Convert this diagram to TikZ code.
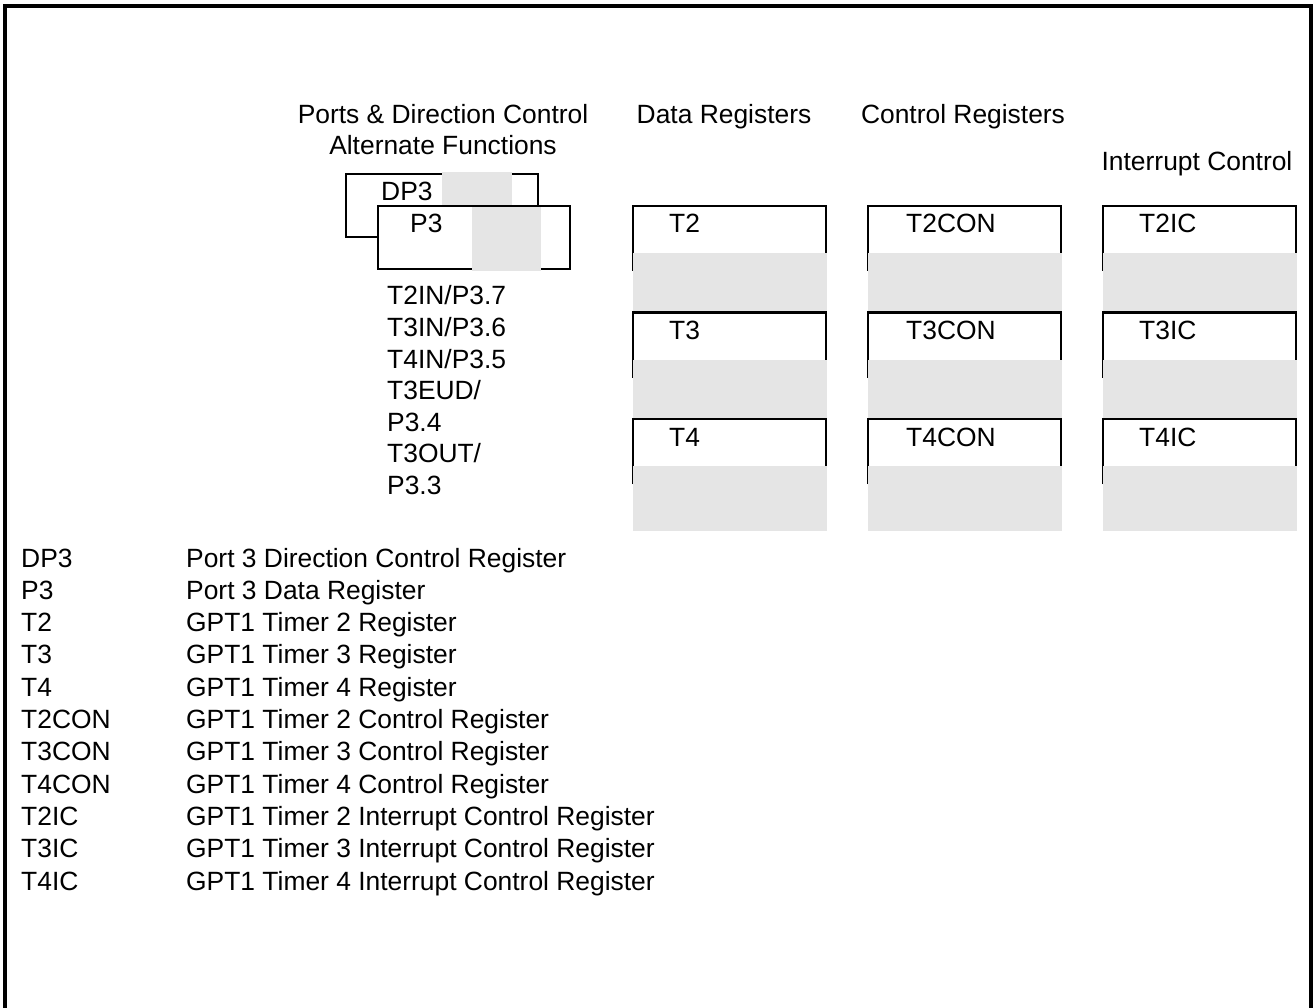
\documentclass[tikz,border=0pt]{standalone}
\usepackage{fontspec}
\setmainfont{Liberation Sans}
\definecolor{regfill}{RGB}{229,229,229}

\begin{document}
\begin{tikzpicture}[
    x=1pt, y=-1pt,
    every node/.style={font=\fontsize{26.4}{31.5}\selectfont, inner sep=0pt},
    framebox/.style={line width=3.8pt},
    regline/.style={line width=2.9pt, fill=white},
    regshade/.style={fill=regfill},
    regtext/.style={anchor=base west},
    headtext/.style={anchor=base},
    legtext/.style={anchor=base west}
]
\useasboundingbox (0,0) rectangle (1314,1008);
\draw[framebox] (5,1008) -- (5,6) -- (1311,6) -- (1311,1008);

% headings
\node[headtext] (hports) at (443,124) {Ports \& Direction Control};
\node[headtext] (halt) at (443,155) {Alternate Functions};
\node[headtext] (hdata) at (724,124) {Data Registers};
\node[headtext] (hcon) at (963,124) {Control Registers};
\node[headtext] (hic) at (1197,171) {Interrupt Control};

% port 3
\draw[regline] (346,174) rectangle (538,237);
\fill[regshade] (442,172.5) rectangle (512,206);
\draw[regline] (378,206) rectangle (570,269);
\fill[regshade] (472,207.5) rectangle (541,271);
\node[regtext] (dp3) at (381,201) {DP3};
\node[regtext] (p3) at (410,233) {P3};

\node[legtext] (alt1) at (387,305) {T2IN/P3.7};
\node[legtext] (alt2) at (387,336.5) {T3IN/P3.6};
\node[legtext] (alt3) at (387,368) {T4IN/P3.5};
\node[legtext] (alt4) at (387,399.5) {T3EUD/};
\node[legtext] (alt5) at (387,431) {P3.4};
\node[legtext] (alt6) at (387,462.5) {T3OUT/};
\node[legtext] (alt7) at (387,494) {P3.3};

% row T2
\draw[regline] (633,271) |- (826,206) -- (826,271);
\fill[regshade] (633,253) rectangle (827,318);
\draw[regline] (868,271) |- (1061,206) -- (1061,271);
\fill[regshade] (868,253) rectangle (1062,318);
\draw[regline] (1103,271) |- (1296,206) -- (1296,271);
\fill[regshade] (1103,253) rectangle (1297,318);
\node[regtext] (t2) at (669,233) {T2};
\node[regtext] (t2con) at (906,233) {T2CON};
\node[regtext] (t2ic) at (1139,233) {T2IC};

% row T3
\draw[regline] (633,377.5) |- (826,312.5) -- (826,377.5);
\fill[regshade] (633,359.5) rectangle (827,424.5);
\draw[regline] (868,377.5) |- (1061,312.5) -- (1061,377.5);
\fill[regshade] (868,359.5) rectangle (1062,424.5);
\draw[regline] (1103,377.5) |- (1296,312.5) -- (1296,377.5);
\fill[regshade] (1103,359.5) rectangle (1297,424.5);
\node[regtext] (t3) at (669,339.5) {T3};
\node[regtext] (t3con) at (906,339.5) {T3CON};
\node[regtext] (t3ic) at (1139,339.5) {T3IC};

% row T4
\draw[regline] (633,484) |- (826,419) -- (826,484);
\fill[regshade] (633,466) rectangle (827,531);
\draw[regline] (868,484) |- (1061,419) -- (1061,484);
\fill[regshade] (868,466) rectangle (1062,531);
\draw[regline] (1103,484) |- (1296,419) -- (1296,484);
\fill[regshade] (1103,466) rectangle (1297,531);
\node[regtext] (t4) at (669,446) {T4};
\node[regtext] (t4con) at (906,446) {T4CON};
\node[regtext] (t4ic) at (1139,446) {T4IC};

% legend
\node[legtext] (kdp3) at (21,567) {DP3};
\node[legtext] (kp3) at (21,599.3) {P3};
\node[legtext] (kt2) at (21,631.6) {T2};
\node[legtext] (kt3) at (21,663.9) {T3};
\node[legtext] (kt4) at (21,696.2) {T4};
\node[legtext] (kt2con) at (21,728.5) {T2CON};
\node[legtext] (kt3con) at (21,760.8) {T3CON};
\node[legtext] (kt4con) at (21,793.1) {T4CON};
\node[legtext] (kt2ic) at (21,825.4) {T2IC};
\node[legtext] (kt3ic) at (21,857.7) {T3IC};
\node[legtext] (kt4ic) at (21,890) {T4IC};
\node[legtext] (ddp3) at (186,567) {Port 3 Direction Control Register};
\node[legtext] (dp3d) at (186,599.3) {Port 3 Data Register};
\node[legtext] (dt2) at (186,631.6) {GPT1 Timer 2 Register};
\node[legtext] (dt3) at (186,663.9) {GPT1 Timer 3 Register};
\node[legtext] (dt4) at (186,696.2) {GPT1 Timer 4 Register};
\node[legtext] (dt2con) at (186,728.5) {GPT1 Timer 2 Control Register};
\node[legtext] (dt3con) at (186,760.8) {GPT1 Timer 3 Control Register};
\node[legtext] (dt4con) at (186,793.1) {GPT1 Timer 4 Control Register};
\node[legtext] (dt2ic) at (186,825.4) {GPT1 Timer 2 Interrupt Control Register};
\node[legtext] (dt3ic) at (186,857.7) {GPT1 Timer 3 Interrupt Control Register};
\node[legtext] (dt4ic) at (186,890) {GPT1 Timer 4 Interrupt Control Register};
\end{tikzpicture}
\end{document}
